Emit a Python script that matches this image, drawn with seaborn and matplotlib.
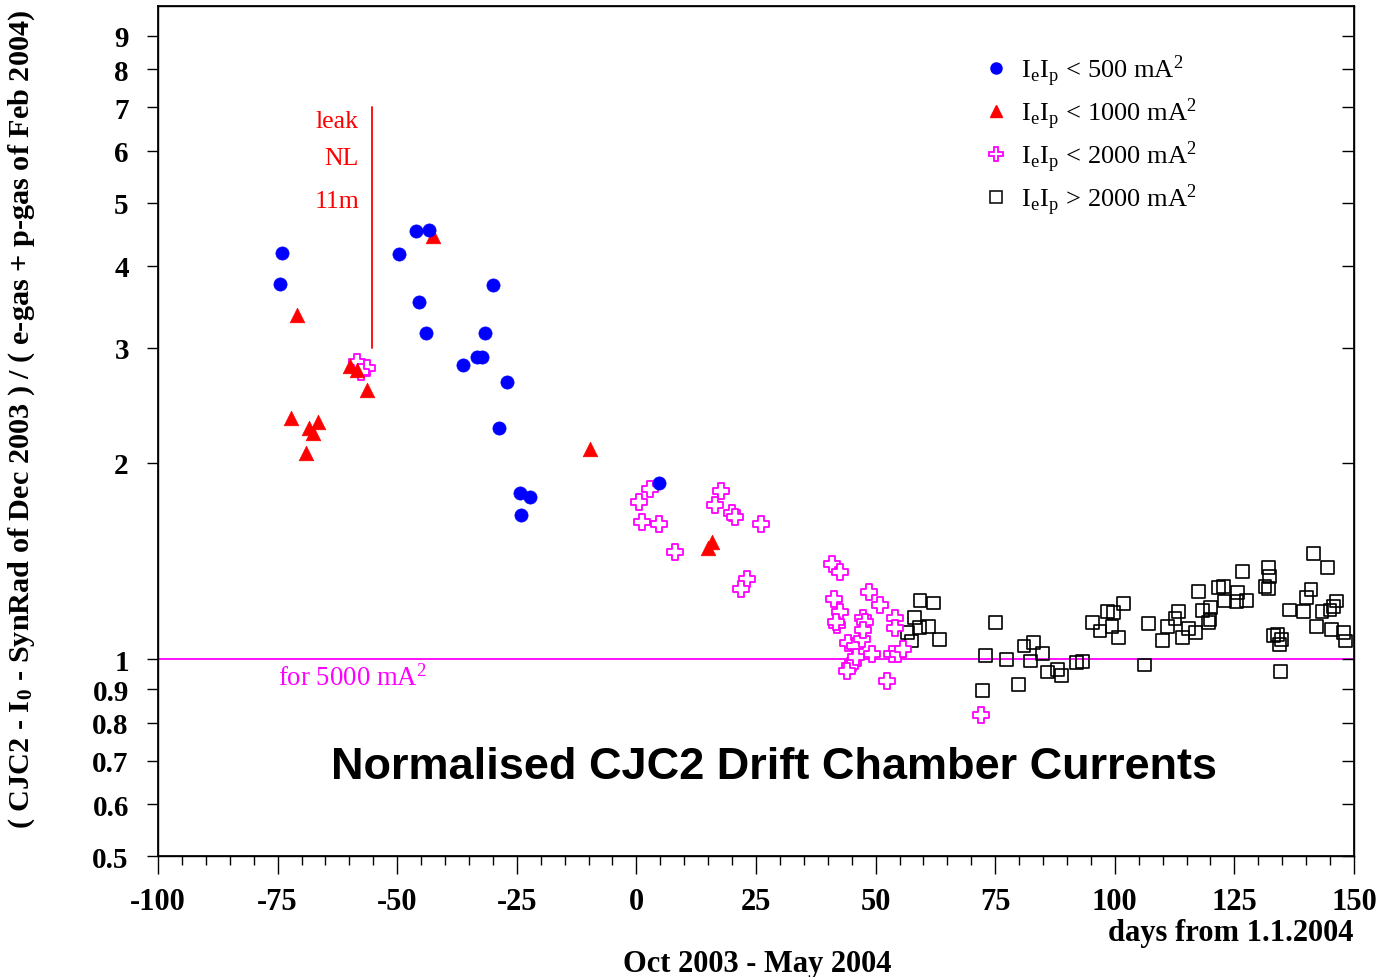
import matplotlib
matplotlib.use("Agg")
import matplotlib.pyplot as plt
from matplotlib.lines import Line2D
from matplotlib.ticker import MultipleLocator, NullLocator
import seaborn as sns
import pandas as pd

# ---------------- data ----------------
blue_x = [-74.5, -74.1, -49.7, -46.1, -43.4, -45.4, -44.0, -30.0, -31.7, -36.3,
          -33.4, -32.3, -27.1, -28.7, -24.3, -22.2, -24.1, 4.7]
blue_y = [3.75, 4.19, 4.17, 4.52, 4.54, 3.52, 3.16, 3.74, 3.16, 2.82,
          2.90, 2.90, 2.66, 2.26, 1.80, 1.77, 1.665, 1.86]

red_x = [-70.9, -42.5, -59.9, -58.5, -56.4, -72.1, -66.5, -68.4, -67.7, -69.1,
         -9.7, 15.7, 15.0]
red_y = [3.37, 4.44, 2.81, 2.77, 2.58, 2.34, 2.31, 2.26, 2.22, 2.07,
         2.10, 1.51, 1.48]

mag_x = [-58.5, -56.4, -57.5, 2.8, 0.6, 1.1, 4.7, 8.0, 17.6, 16.5, 19.9, 20.6,
         26.0, 23.1, 21.8, 40.8, 42.6, 41.2, 48.7, 50.9, 42.6, 41.9, 41.7, 47.4,
         47.8, 54.1, 54.1, 44.3, 45.7, 47.1, 47.4, 49.2, 53.4, 54.7, 55.8, 45.3,
         44.7, 44.0, 52.3, 46.0, 72.0]
mag_y = [2.85, 2.79, 2.75, 1.82, 1.74, 1.62, 1.61, 1.46, 1.81, 1.72, 1.675, 1.65,
         1.61, 1.325, 1.28, 1.40, 1.36, 1.235, 1.27, 1.21, 1.18, 1.13, 1.14, 1.158,
         1.14, 1.158, 1.118, 1.06, 1.048, 1.073, 1.11, 1.018, 1.018, 1.018, 1.036, 0.988,
         0.977, 0.96, 0.927, 1.01, 0.821]

sq_x = [59.3, 62.1, 58.1, 59.1, 61.0, 56.7, 57.5, 63.3,
        75.1, 73.0, 72.3, 77.3, 79.9, 81.0, 83.0, 82.4, 84.9, 85.9, 88.0, 88.9,
        92.0, 93.2, 95.4, 96.9, 98.4, 99.7, 101.8, 99.4, 100.7, 106.2, 107.1,
        109.9, 111.1, 112.6, 113.3, 114.2, 115.4, 116.8, 117.5, 118.4, 119.6, 120.0,
        119.9, 121.6, 122.7, 123.0, 125.6, 125.5, 127.6, 126.7, 132.1, 132.3, 131.4,
        132.1, 133.2, 134.0, 134.9, 134.5, 134.7, 136.5, 139.4, 140.1, 141.0, 141.5,
        144.4, 142.2, 143.3, 145.0, 145.3, 146.4, 147.8, 148.3, 145.7]
sq_y = [1.23, 1.22, 1.158, 1.118, 1.124, 1.10, 1.067, 1.073,
        1.14, 1.015, 0.897, 1.0, 0.915, 1.048, 1.06, 0.994, 1.021, 0.956, 0.965, 0.945,
        0.988, 0.992, 1.137, 1.105, 1.183, 1.181, 1.216, 1.122, 1.079, 0.98, 1.135,
        1.069, 1.122, 1.154, 1.185, 1.079, 1.114, 1.098, 1.271, 1.188, 1.138, 1.2,
        1.151, 1.287, 1.294, 1.228, 1.264, 1.225, 1.23, 1.361, 1.381, 1.338, 1.294,
        1.282, 1.088, 1.092, 1.073, 1.054, 0.958, 1.19, 1.185, 1.242, 1.279, 1.452,
        1.381, 1.124, 1.185, 1.19, 1.111, 1.228, 1.098, 1.067, 1.206]

legend_labels = [r"I$_\mathregular{e}$I$_\mathregular{p}$ < 500 mA$^\mathregular{2}$",
                 r"I$_\mathregular{e}$I$_\mathregular{p}$ < 1000 mA$^\mathregular{2}$",
                 r"I$_\mathregular{e}$I$_\mathregular{p}$ < 2000 mA$^\mathregular{2}$",
                 r"I$_\mathregular{e}$I$_\mathregular{p}$ > 2000 mA$^\mathregular{2}$"]

x_ticks = [-100, -75, -50, -25, 0, 25, 50, 75, 100, 125, 150]
y_ticks = [0.5, 0.6, 0.7, 0.8, 0.9, 1, 2, 3, 4, 5, 6, 7, 8, 9]
y_ticklabels = ["0.5", "0.6", "0.7", "0.8", "0.9", "1", "2", "3", "4", "5", "6", "7", "8", "9"]

# ---------------- style ----------------
sns.set_theme(style="white")
plt.rcParams["font.family"] = ["Liberation Serif", "DejaVu Serif"]
plt.rcParams["mathtext.fontset"] = "stix"
for k in ["text.color", "axes.labelcolor", "xtick.color", "ytick.color", "axes.edgecolor"]:
    plt.rcParams[k] = "black"

BLUE, RED, MAG, BLK = "#0000ff", "#ff0000", "#ff00ff", "#000000"

fig = plt.figure(figsize=(13.81, 9.78), dpi=100)
ax = fig.add_axes([158 / 1381, 1 - 857 / 978, 1196 / 1381, 850 / 978])

df_b = pd.DataFrame({"x": blue_x, "y": blue_y})
df_r = pd.DataFrame({"x": red_x, "y": red_y})
df_m = pd.DataFrame({"x": mag_x, "y": mag_y})
df_s = pd.DataFrame({"x": sq_x, "y": sq_y})

ax.axhline(1.0, color=MAG, lw=1.3, zorder=1)

sns.scatterplot(data=df_s, x="x", y="y", ax=ax, marker="s", s=85,
                facecolor="none", edgecolor=BLK, linewidth=1.2, zorder=3)
sns.scatterplot(data=df_m, x="x", y="y", ax=ax, marker="P", s=130,
                facecolor="white", edgecolor=MAG, linewidth=1.3, zorder=3)
sns.scatterplot(data=df_r, x="x", y="y", ax=ax, marker="^", s=110,
                color=RED, edgecolor=RED, linewidth=0.5, zorder=4)
sns.scatterplot(data=df_b, x="x", y="y", ax=ax, marker="o", s=90,
                color=BLUE, edgecolor=BLUE, linewidth=0.5, zorder=4)

ax.set_yscale("log")
ax.set_xlim(-100, 150)
ax.set_ylim(0.5, 10)
ax.set_xticks(x_ticks)
ax.set_xticklabels([str(t) for t in x_ticks])
ax.xaxis.set_minor_locator(MultipleLocator(5))
ax.set_yticks(y_ticks)
ax.set_yticklabels(y_ticklabels)
ax.yaxis.set_minor_locator(NullLocator())
ax.set_xlabel("")
ax.set_ylabel("")

for sp in ax.spines.values():
    sp.set_color("black")
    sp.set_linewidth(1.0)

ax.tick_params(axis="x", which="major", direction="out", length=13, width=1,
               color="black", pad=9, labelsize=22, labelcolor="black", bottom=True, top=False)
ax.tick_params(axis="x", which="minor", direction="out", length=6.5, width=1,
               color="black", bottom=True, top=False)
ax.tick_params(axis="y", which="major", direction="out", length=8, width=1,
               color="black", pad=13, labelsize=21, labelcolor="black", left=True, right=False)
for lab in ax.get_xticklabels() + ax.get_yticklabels():
    lab.set_fontweight("bold")

# right-hand inward ticks
ax2 = ax.twinx()
ax2.set_yscale("log")
ax2.set_ylim(0.5, 10)
ax2.set_yticks(y_ticks)
ax2.yaxis.set_minor_locator(NullLocator())
ax2.tick_params(axis="y", which="major", direction="in", length=8.5, width=1,
                color="black", labelright=False, right=True)
ax2.grid(False)
ax.grid(False)

# annotations
ax.plot([-55.3, -55.3], [3.0, 7.0], color=RED, lw=1.3)
for txt, yy in [("leak", 6.66), ("NL", 5.85), ("11m", 5.03)]:
    ax.text(-58.0, yy, txt, color=RED, fontsize=18.5, ha="right", va="center")
ax.text(-74.9, 0.939, r"for 5000 mA$^\mathregular{2}$", color=MAG, fontsize=19.3,
        ha="left", va="center")

ax.text(0.515, 0.105, "Normalised CJC2 Drift Chamber Currents", transform=ax.transAxes,
        ha="center", va="center", fontsize=32.5, fontweight="bold", color="black",
        family=["Liberation Sans", "DejaVu Sans"])

# legend
handles = [
    Line2D([], [], marker="o", linestyle="none", color=BLUE, markersize=8),
    Line2D([], [], marker="^", linestyle="none", color=RED, markersize=8),
    Line2D([], [], marker="P", linestyle="none", markerfacecolor="white",
           markeredgecolor=MAG, markeredgewidth=1.3, markersize=10),
    Line2D([], [], marker="s", linestyle="none", markerfacecolor="none",
           markeredgecolor=BLK, markeredgewidth=1.1, markersize=9),
]
ax.legend(handles, legend_labels, loc="upper left",
          bbox_to_anchor=(983 / 1381, 1 - 53 / 978), bbox_transform=fig.transFigure,
          frameon=False, fontsize=19, handlelength=1.0, handletextpad=0.45,
          borderpad=0, borderaxespad=0, labelspacing=0.27)

# axis labels
fig.text(22 / 1381, 1 - 419 / 978,
         r"( CJC2 - I$_\mathregular{0}$ - SynRad of Dec 2003 ) / ( e-gas + p-gas of Feb 2004)",
         rotation=90, ha="center", va="center", fontsize=21.8, fontweight="bold")
fig.text(1354 / 1381, 1 - 934 / 978, "days from 1.1.2004", ha="right", va="center",
         fontsize=22, fontweight="bold")
fig.text(757 / 1381, 1 - 965 / 978, "Oct 2003 - May 2004", ha="center", va="center",
         fontsize=22, fontweight="bold")

fig.savefig("out.png", dpi=100, facecolor="white")
